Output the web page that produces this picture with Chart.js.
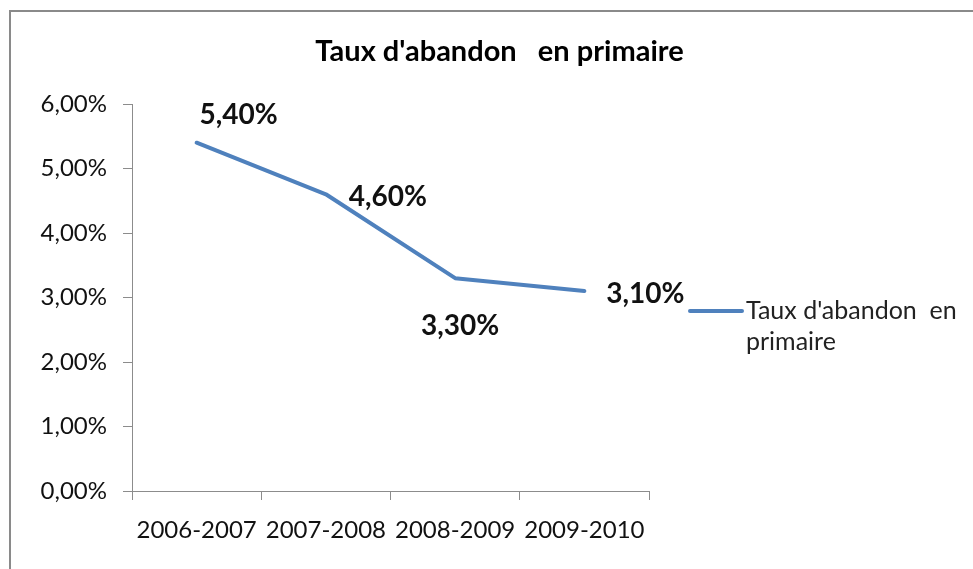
<!DOCTYPE html>
<html>
<head>
<meta charset="utf-8">
<script src="https://cdn.jsdelivr.net/npm/chart.js@4.4.1/dist/chart.umd.min.js"></script>
<style>
  html, body { margin: 0; padding: 0; background: #fff; overflow: hidden; }
  #wrap { position: relative; width: 973px; height: 569px; }
  #frame {
    position: absolute; left: 9px; top: 10px; width: 1000px; height: 600px;
    border-left: 2px solid #8a8a8a; border-top: 2px solid #8a8a8a;
  }
  canvas { position: absolute; left: 0; top: 0; }
</style>
</head>
<body>
<div id="wrap">
  <div id="frame"></div>
  <canvas id="chart" width="973" height="569"></canvas>
</div>
<script>
const titre = "Taux d'abandon   en primaire";
const annees = ['2006-2007', '2007-2008', '2008-2009', '2009-2010'];
const tauxAbandon = [5.4, 4.6, 3.3, 3.1];
const serieNom = "Taux d'abandon  en primaire";
const legendeLignes = ["Taux d'abandon  en", 'primaire'];

const bleu = '#4F81BD';
const gris = '#8c8c8c';
const police = 'Lato, Calibri, "Open Sans", sans-serif';

const pct = (v) => v.toFixed(2).replace('.', ',') + '%';

// titre centré sur tout le cadre, pas seulement la zone du graphique
const titreCentre = {
  id: 'titreCentre',
  afterDraw(chart) {
    const { ctx } = chart;
    ctx.save();
    ctx.font = 'bold 29px ' + police;
    ctx.fillStyle = '#000';
    ctx.textAlign = 'center';
    ctx.textBaseline = 'middle';
    ctx.fillText(titre, chart.width / 2 + 13, 52);
    ctx.restore();
  },
};

// étiquettes de données, décalées comme dans Excel
const decalages = [[42, -28], [62, 3], [5, 48], [61, 3]];
const etiquettes = {
  id: 'etiquettes',
  afterDatasetsDraw(chart) {
    const { ctx } = chart;
    const meta = chart.getDatasetMeta(0);
    ctx.save();
    ctx.font = 'bold 28px ' + police;
    ctx.fillStyle = '#111';
    ctx.textAlign = 'center';
    ctx.textBaseline = 'middle';
    meta.data.forEach((pt, i) => {
      const [dx, dy] = decalages[i];
      ctx.fillText(pct(tauxAbandon[i]), pt.x + dx, pt.y + dy);
    });
    ctx.restore();
  },
};

// légende à droite, sur deux lignes
const legende = {
  id: 'legende',
  afterDraw(chart) {
    const { ctx, chartArea } = chart;
    const x = chartArea.right + 41;
    const y = 311;
    ctx.save();
    ctx.strokeStyle = bleu;
    ctx.lineWidth = 4;
    ctx.lineCap = 'round';
    ctx.beginPath();
    ctx.moveTo(x, y);
    ctx.lineTo(x + 52, y);
    ctx.stroke();
    ctx.font = '25px ' + police;
    ctx.fillStyle = '#222';
    ctx.textAlign = 'left';
    ctx.textBaseline = 'middle';
    legendeLignes.forEach((l, i) => ctx.fillText(l, x + 56, y + i * 31));
    ctx.restore();
  },
};

new Chart(document.getElementById('chart'), {
  type: 'line',
  data: {
    labels: annees,
    datasets: [
      {
        label: serieNom,
        data: tauxAbandon,
        borderColor: bleu,
        borderWidth: 4,
        borderJoinStyle: 'round',
        borderCapStyle: 'round',
        pointRadius: 0,
        tension: 0,
        fill: false,
      },
    ],
  },
  options: {
    responsive: false,
    animation: false,
    layout: { padding: { top: 104, left: 0, right: 324, bottom: 0 } },
    plugins: {
      legend: { display: false },
      tooltip: { enabled: false },
      title: { display: false },
    },
    scales: {
      x: {
        offset: true,
        afterFit: (s) => { s.height = 78; },
        grid: { offset: true, drawOnChartArea: false, drawTicks: true, tickLength: 9, color: gris },
        border: { color: gris, width: 1 },
        ticks: { color: '#111', padding: 16, maxRotation: 0, font: { family: police, size: 24 } },
      },
      y: {
        min: 0,
        max: 6,
        afterFit: (s) => { s.width = 132; },
        grid: { drawOnChartArea: false, drawTicks: true, tickLength: 9, color: gris },
        border: { color: gris, width: 1 },
        ticks: {
          stepSize: 1,
          color: '#111',
          padding: 16,
          font: { family: police, size: 24 },
          callback: (v) => pct(v),
        },
      },
    },
  },
  plugins: [titreCentre, etiquettes, legende],
});
</script>
</body>
</html>
